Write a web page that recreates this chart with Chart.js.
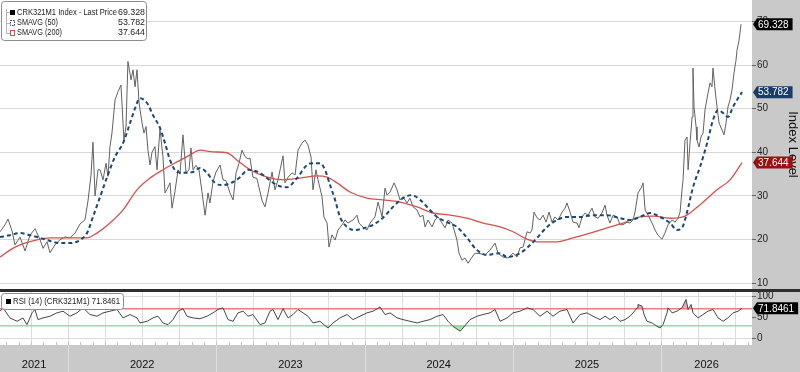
<!DOCTYPE html>
<html><head><meta charset="utf-8">
<script src="https://cdn.jsdelivr.net/npm/chart.js@4.4.1/dist/chart.umd.min.js"></script>
<style>
html,body{margin:0;padding:0;background:#c9c9c9;width:800px;height:372px;overflow:hidden}
#a{position:absolute;left:0;top:0;width:800px;height:292px}
#b{position:absolute;left:0;top:292px;width:800px;height:80px}
</style></head><body>
<div id="a"><canvas id="ca"></canvas></div>
<div id="b"><canvas id="cb"></canvas></div>
<script>
// ---- DATA (dates as decimal years) ----
const priceDates = [2021.541,2021.575,2021.595,2021.622,2021.642,2021.676,2021.710,2021.743,2021.777,2021.811,2021.831,2021.858,2021.878,2021.912,2021.946,2021.979,2022.013,2022.047,2022.081,2022.114,2022.135,2022.155,2022.168,2022.182,2022.202,2022.216,2022.236,2022.256,2022.269,2022.283,2022.296,2022.317,2022.337,2022.357,2022.377,2022.391,2022.404,2022.425,2022.438,2022.452,2022.465,2022.479,2022.499,2022.512,2022.526,2022.539,2022.553,2022.566,2022.586,2022.600,2022.620,2022.640,2022.654,2022.667,2022.688,2022.701,2022.721,2022.742,2022.755,2022.775,2022.796,2022.816,2022.829,2022.843,2022.863,2022.883,2022.903,2022.924,2022.944,2022.957,2022.978,2022.998,2023.025,2023.045,2023.065,2023.092,2023.113,2023.133,2023.153,2023.173,2023.194,2023.214,2023.227,2023.247,2023.274,2023.308,2023.328,2023.349,2023.376,2023.396,2023.416,2023.450,2023.463,2023.484,2023.511,2023.531,2023.551,2023.578,2023.598,2023.618,2023.639,2023.652,2023.672,2023.686,2023.713,2023.726,2023.747,2023.760,2023.780,2023.801,2023.821,2023.848,2023.868,2023.888,2023.922,2023.949,2023.962,2023.989,2024.016,2024.037,2024.070,2024.091,2024.118,2024.138,2024.151,2024.172,2024.199,2024.219,2024.239,2024.259,2024.286,2024.306,2024.327,2024.354,2024.374,2024.394,2024.408,2024.428,2024.455,2024.475,2024.495,2024.522,2024.543,2024.563,2024.590,2024.610,2024.623,2024.637,2024.657,2024.677,2024.698,2024.725,2024.745,2024.779,2024.812,2024.846,2024.880,2024.900,2024.934,2024.967,2025.001,2025.028,2025.048,2025.069,2025.096,2025.116,2025.129,2025.143,2025.163,2025.183,2025.204,2025.224,2025.244,2025.264,2025.284,2025.305,2025.332,2025.352,2025.365,2025.386,2025.406,2025.433,2025.446,2025.467,2025.487,2025.507,2025.534,2025.554,2025.575,2025.601,2025.622,2025.635,2025.655,2025.676,2025.703,2025.723,2025.743,2025.770,2025.790,2025.811,2025.824,2025.844,2025.865,2025.878,2025.892,2025.912,2025.939,2025.959,2025.979,2026.006,2026.026,2026.047,2026.074,2026.094,2026.114,2026.128,2026.141,2026.148,2026.161,2026.175,2026.182,2026.195,2026.209,2026.215,2026.222,2026.236,2026.242,2026.256,2026.269,2026.283,2026.296,2026.310,2026.330,2026.343,2026.350,2026.364,2026.377,2026.391,2026.411,2026.424,2026.438,2026.451,2026.465,2026.478,2026.492,2026.505,2026.512,2026.526,2026.539];
const priceValues = [21.8,23.4,24.7,22.0,18.8,20.6,17.4,21.0,22.5,20.0,18.0,19.5,17.0,18.8,20.0,20.6,20.4,21.5,23.6,24.5,29.0,34.8,42.3,30.0,36.0,36.0,33.7,37.5,34.5,41.3,44.4,52.0,53.9,55.4,42.8,46.0,60.8,56.6,58.9,55.0,58.9,51.3,46.7,44.4,45.9,40.5,37.1,40.0,41.3,36.0,45.3,39.0,30.7,31.5,33.0,27.2,31.0,36.0,35.0,44.0,35.3,36.0,41.0,36.0,37.0,36.0,31.0,25.6,30.7,28.4,33.3,35.5,37.1,33.7,33.5,30.7,29.1,35.3,37.5,40.5,39.0,38.5,38.7,34.3,34.0,29.0,27.5,30.7,35.5,31.4,33.7,39.2,33.0,34.3,35.3,34.8,40.5,42.1,42.8,41.7,38.9,31.4,36.0,33.7,29.8,25.2,23.8,18.3,21.1,19.9,22.2,23.4,24.5,23.8,24.5,25.6,23.8,22.9,22.2,23.8,25.2,28.6,25.2,31.8,30.2,30.9,33.0,31.4,29.1,29.8,28.4,29.5,27.5,26.8,25.2,25.6,22.9,24.5,22.9,24.5,25.2,23.8,22.7,24.5,23.8,21.5,19.9,16.9,15.3,15.8,14.6,16.0,16.9,16.8,16.5,17.6,19.2,16.9,16.0,15.8,16.9,16.0,18.1,18.3,21.8,21.5,22.2,26.3,25.0,24.5,25.6,24.0,26.3,24.0,25.2,24.5,26.3,27.2,28.4,26.3,24.0,23.8,22.7,25.2,26.1,25.6,27.2,25.2,24.9,26.1,27.9,25.6,23.8,25.6,25.2,23.4,23.4,24.0,23.8,24.5,26.3,30.7,31.8,33.0,26.8,25.6,23.8,22.2,21.0,20.1,21.5,23.4,24.5,24.0,24.9,26.3,31.4,33.7,42.8,43.5,36.0,42.1,48.1,59.3,50.4,45.8,42.8,41.2,43.5,44.4,49.7,52.4,55.9,55.0,59.3,54.3,50.4,46.7,45.1,44.0,46.7,50.4,52.0,54.3,58.2,61.1,63.4,65.7,69.328];

const sma50Dates = [2021.541,2021.608,2021.676,2021.743,2021.811,2021.878,2021.946,2022.013,2022.081,2022.128,2022.168,2022.216,2022.263,2022.317,2022.371,2022.418,2022.452,2022.485,2022.533,2022.573,2022.620,2022.654,2022.688,2022.735,2022.775,2022.843,2022.890,2022.937,2022.991,2023.045,2023.113,2023.160,2023.214,2023.281,2023.315,2023.409,2023.477,2023.544,2023.612,2023.645,2023.699,2023.733,2023.767,2023.801,2023.834,2023.882,2023.935,2024.003,2024.057,2024.124,2024.192,2024.259,2024.320,2024.374,2024.441,2024.489,2024.556,2024.623,2024.691,2024.758,2024.826,2024.914,2024.961,2025.048,2025.102,2025.163,2025.231,2025.298,2025.365,2025.453,2025.541,2025.635,2025.723,2025.790,2025.858,2025.925,2025.993,2026.060,2026.108,2026.141,2026.175,2026.215,2026.263,2026.310,2026.350,2026.384,2026.418,2026.451,2026.485,2026.519,2026.546];
const sma50Values = [20.6,21.0,21.5,21.0,20.4,19.7,19.2,19.2,19.9,21.5,25.2,29.8,34.3,39.0,42.1,46.7,50.1,52.4,51.3,48.5,45.6,42.1,38.2,35.5,35.3,35.5,36.4,35.3,33.0,32.5,33.2,34.3,36.0,35.5,34.8,32.5,32.0,34.1,37.1,37.5,37.5,36.0,32.5,29.1,25.2,22.9,22.2,22.7,23.4,25.0,27.5,29.5,30.2,29.1,26.8,25.2,24.0,22.9,20.4,17.6,16.5,16.9,16.0,16.9,18.3,20.4,22.9,24.5,25.2,25.2,25.6,25.6,24.9,24.5,25.2,26.1,25.2,23.8,22.2,22.7,26.3,32.0,36.7,42.1,47.4,49.7,49.0,48.1,50.4,52.4,53.782];

const sma200Dates = [2021.541,2021.608,2021.676,2021.764,2021.878,2021.993,2022.128,2022.195,2022.283,2022.371,2022.465,2022.553,2022.640,2022.735,2022.823,2022.890,2022.978,2023.072,2023.140,2023.227,2023.342,2023.450,2023.565,2023.679,2023.747,2023.814,2023.902,2024.016,2024.124,2024.239,2024.354,2024.462,2024.576,2024.691,2024.799,2024.914,2025.001,2025.096,2025.163,2025.298,2025.406,2025.521,2025.635,2025.743,2025.858,2025.946,2026.060,2026.148,2026.263,2026.377,2026.465,2026.546];
const sma200Values = [16.0,17.6,18.8,19.7,20.4,20.4,20.4,21.5,23.8,26.8,31.4,34.1,36.0,37.8,39.4,40.5,40.1,39.9,38.2,36.0,34.3,33.7,34.1,34.6,34.3,33.0,30.9,29.5,29.1,28.6,27.5,26.1,25.6,24.9,23.8,22.9,21.8,20.1,19.5,19.5,20.4,21.5,22.7,23.8,25.2,25.4,24.9,25.2,28.0,31.4,33.7,37.644];

const rsiDates = [2021.541,2021.561,2021.608,2021.656,2021.696,2021.723,2021.757,2021.777,2021.797,2021.831,2021.878,2021.925,2021.966,2022.013,2022.060,2022.101,2022.148,2022.195,2022.236,2022.283,2022.330,2022.371,2022.418,2022.465,2022.485,2022.533,2022.573,2022.607,2022.640,2022.674,2022.708,2022.742,2022.775,2022.802,2022.843,2022.890,2022.937,2022.978,2023.011,2023.045,2023.079,2023.113,2023.146,2023.180,2023.214,2023.247,2023.295,2023.328,2023.362,2023.382,2023.416,2023.450,2023.484,2023.517,2023.551,2023.585,2023.618,2023.652,2023.699,2023.753,2023.787,2023.834,2023.882,2023.922,2023.969,2024.016,2024.057,2024.104,2024.138,2024.172,2024.219,2024.259,2024.306,2024.354,2024.394,2024.441,2024.489,2024.529,2024.563,2024.596,2024.644,2024.664,2024.711,2024.758,2024.799,2024.846,2024.880,2024.914,2024.961,2025.001,2025.048,2025.096,2025.136,2025.183,2025.231,2025.271,2025.318,2025.365,2025.406,2025.453,2025.500,2025.541,2025.588,2025.622,2025.655,2025.689,2025.723,2025.757,2025.790,2025.811,2025.838,2025.844,2025.871,2025.885,2025.905,2025.939,2025.972,2025.993,2026.013,2026.040,2026.047,2026.074,2026.107,2026.141,2026.168,2026.182,2026.202,2026.215,2026.249,2026.283,2026.316,2026.350,2026.384,2026.418,2026.451,2026.485,2026.519,2026.546];
const rsiValues = [65,73,49,41,49,33,61,69,45,49,53,61,65,53,61,73,57,53,61,65,69,49,57,49,37,41,49,53,37,33,45,65,71,53,49,47,53,61,69,73,45,41,61,65,53,57,33,37,65,69,45,71,49,57,69,61,53,37,41,25,37,49,57,45,53,61,65,75,57,61,49,45,41,37,41,45,53,57,41,29,17.5,25,45,53,57,61,69,41,49,61,65,73,69,53,65,53,65,69,37,57,61,53,45,53,45,53,41,45,53,61,73,81,77,57,41,37,29,25,33,61,73,61,65,73,93,69,81,61,49,57,65,69,49,41,49,61,65,71.8461];

const yearLabels = ['2021','2022','2023','2024','2025','2026'];
const mainTicks = [10,20,30,40,50,60,70];
const rsiTicks = [0,30,50,70,100];
const legendNames = ['CRK321M1 Index - Last Price','SMAVG (50)','SMAVG (200)'];
const rsiName = 'RSI (14) (CRK321M1)';

// ---- axis ranges ----
const X_MIN = 2021.541, X_MAX = 2026.613;
const Y_MIN = 8.69, Y_MAX = 74.89;
const R_MIN = -15.5, R_MAX = 110.7;

const GREY = '#c9c9c9';
const FONT = '"Liberation Sans", Arial, sans-serif';
const C_PRICE = '#626262', C_S50 = '#1d4777', C_S200 = '#d4524d';
const TAG_S50 = '#193d68', TAG_S200 = '#9b1111';

function pts(xs, ys){ return xs.map((x,i)=>({x:x, y:ys[i]})); }
function last(a){ return a[a.length-1]; }

function drawTag(ctx, x, y, text, color){
  ctx.save();
  ctx.font = '10px ' + FONT;
  const w = ctx.measureText(text).width;
  const h = 12;
  ctx.beginPath();
  ctx.moveTo(x, y); ctx.lineTo(x+4, y-h/2); ctx.lineTo(x+w+9, y-h/2);
  ctx.lineTo(x+w+9, y+h/2); ctx.lineTo(x+4, y+h/2); ctx.closePath();
  ctx.fillStyle = color; ctx.fill();
  ctx.fillStyle = '#fff'; ctx.textBaseline = 'middle'; ctx.textAlign = 'left';
  ctx.fillText(text, x+5, y+0.5);
  ctx.restore();
}
function rrect(ctx,x,y,w,h,r){
  ctx.beginPath();
  ctx.moveTo(x+r,y); ctx.lineTo(x+w-r,y); ctx.quadraticCurveTo(x+w,y,x+w,y+r);
  ctx.lineTo(x+w,y+h-r); ctx.quadraticCurveTo(x+w,y+h,x+w-r,y+h);
  ctx.lineTo(x+r,y+h); ctx.quadraticCurveTo(x,y+h,x,y+h-r);
  ctx.lineTo(x,y+r); ctx.quadraticCurveTo(x,y,x+r,y); ctx.closePath();
}
function noPad(s){ s.paddingTop=0; s.paddingBottom=0; s.paddingLeft=0; s.paddingRight=0; }

const plugA = {
  id:'plugA',
  beforeDraw(chart){
    const {ctx, chartArea:a, width, height} = chart;
    ctx.save();
    ctx.fillStyle = GREY; ctx.fillRect(0,0,width,height);
    ctx.fillStyle = '#fff'; ctx.fillRect(a.left,a.top,a.right-a.left,a.bottom-a.top);
    ctx.restore();
  },
  afterDraw(chart){
    const {ctx, chartArea:a, width} = chart;
    const ys = chart.scales.y;
    drawTag(ctx, a.right+1, ys.getPixelForValue(last(priceValues)), last(priceValues).toFixed(3), '#000');
    drawTag(ctx, a.right+1, ys.getPixelForValue(last(sma50Values)), last(sma50Values).toFixed(3), TAG_S50);
    drawTag(ctx, a.right+1, ys.getPixelForValue(last(sma200Values)), last(sma200Values).toFixed(3), TAG_S200);
    // legend box
    ctx.save();
    rrect(ctx, 1.5, 1.5, 145, 39, 3);
    ctx.fillStyle='#fff'; ctx.fill(); ctx.strokeStyle='#8c8c8c'; ctx.lineWidth=1; ctx.stroke();
    ctx.strokeStyle='#b5b5b5'; ctx.beginPath();
    ctx.moveTo(6.5,9); ctx.lineTo(6.5,33.5); ctx.lineTo(10,33.5);
    ctx.moveTo(6.5,23.5); ctx.lineTo(10,23.5);
    ctx.moveTo(6.5,12.5); ctx.lineTo(10,12.5); ctx.stroke();
    ctx.fillStyle='#000'; ctx.fillRect(10,10,5,5);
    ctx.setLineDash([1.5,1]); ctx.strokeStyle=C_S50; ctx.strokeRect(10.5,20.5,4,5);
    ctx.setLineDash([]); ctx.strokeStyle=C_S200; ctx.strokeRect(10.5,30.5,4,5);
    ctx.font = '9px ' + FONT; ctx.fillStyle='#222'; ctx.textBaseline='middle';
    const lv = [last(priceValues), last(sma50Values), last(sma200Values)];
    const ly = [12.5, 23, 33];
    const lw = [100, 41, 45];
    for (let i=0;i<3;i++){
      ctx.textAlign='left'; ctx.fillText(legendNames[i], 17, ly[i], lw[i]);
      ctx.textAlign='right'; ctx.fillText(lv[i].toFixed(3), 145, ly[i], 27);
    }
    ctx.restore();
    ctx.save(); ctx.fillStyle='#2e2e2e'; ctx.fillRect(0, a.bottom, width, 3); ctx.restore();
  }
};

new Chart(document.getElementById('ca'), {
  type:'line',
  data:{datasets:[
    {label:legendNames[1], data:pts(sma50Dates,sma50Values), borderColor:C_S50, borderWidth:2, borderDash:[4,3], pointRadius:0, cubicInterpolationMode:'monotone', order:0},
    {label:legendNames[2], data:pts(sma200Dates,sma200Values), borderColor:C_S200, borderWidth:1.3, pointRadius:0, cubicInterpolationMode:'monotone', order:1},
    {label:legendNames[0], data:pts(priceDates,priceValues), borderColor:C_PRICE, borderWidth:1, pointRadius:0, tension:0, order:2}
  ]},
  options:{
    responsive:true, maintainAspectRatio:false, animation:false,
    layout:{padding:{left:0,right:0,top:0,bottom:3}},
    plugins:{legend:{display:false}, tooltip:{enabled:false}},
    scales:{
      x:{type:'linear', min:X_MIN, max:X_MAX, display:false},
      y:{position:'right', min:Y_MIN, max:Y_MAX,
        afterBuildTicks:s=>{ s.ticks = mainTicks.map(v=>({value:v})); },
        afterFit:s=>{ s.width=48; noPad(s); },
        ticks:{color:'#222', font:{family:FONT, size:10}, padding:1, autoSkip:false},
        grid:{color:'#d8d8d8', tickColor:'#666', tickLength:4},
        border:{display:false},
        title:{display:true, text:'Index Level', color:'#111', font:{family:FONT, size:13}, padding:0}
      }
    }
  },
  plugins:[plugA]
});

const plugB = {
  id:'plugB',
  beforeDraw(chart){
    const {ctx, chartArea:a, width, height} = chart;
    const xs = chart.scales.x;
    ctx.save();
    ctx.fillStyle = GREY; ctx.fillRect(0,0,width,height);
    ctx.fillStyle = '#fff'; ctx.fillRect(a.left,a.top,a.right-a.left,a.bottom-a.top);
    ctx.lineWidth=1;
    for (let y=2021; y<=2027; y++){
      ctx.strokeStyle='#dcdcdc';
      for (let q=0;q<4;q++){
        const v = y + q*0.25;
        if (v<=X_MIN || v>=X_MAX) continue;
        const px = Math.round(xs.getPixelForValue(v))+0.5;
        ctx.beginPath(); ctx.moveTo(px,a.top); ctx.lineTo(px,a.bottom); ctx.stroke();
      }
      ctx.strokeStyle='#c4c4c4';
      for (let m=0;m<12;m++){
        const v = y + m/12;
        if (v<=X_MIN || v>=X_MAX) continue;
        const px = Math.round(xs.getPixelForValue(v))+0.5;
        ctx.beginPath(); ctx.moveTo(px,a.bottom-3); ctx.lineTo(px,a.bottom); ctx.stroke();
      }
      if (y>X_MIN && y<X_MAX){
        const px = Math.round(xs.getPixelForValue(y))+0.5;
        ctx.strokeStyle='#dedede';
        ctx.beginPath(); ctx.moveTo(px,a.bottom); ctx.lineTo(px,height); ctx.stroke();
      }
    }
    ctx.restore();
  },
  afterDraw(chart){
    const {ctx, chartArea:a} = chart;
    const ys = chart.scales.y;
    drawTag(ctx, a.right+1, ys.getPixelForValue(last(rsiValues)), last(rsiValues).toFixed(4), '#000');
    ctx.save();
    rrect(ctx, 1.5, 1.5, 122, 16, 3);
    ctx.fillStyle='#fff'; ctx.fill(); ctx.strokeStyle='#8c8c8c'; ctx.stroke();
    ctx.fillStyle='#000'; ctx.fillRect(6,7,5,5);
    ctx.font='9px '+FONT; ctx.fillStyle='#222'; ctx.textBaseline='middle'; ctx.textAlign='left';
    ctx.fillText(rsiName + ' ' + last(rsiValues).toFixed(4), 13, 10, 107);
    ctx.restore();
  }
};

const yearPos = yearLabels.map(l=>{
  const y = +l;
  const lo = Math.max(y, X_MIN), hi = Math.min(y+1, X_MAX);
  return (lo+hi)/2;
});

new Chart(document.getElementById('cb'), {
  type:'line',
  data:{datasets:[
    {label:rsiName, data:pts(rsiDates,rsiValues), borderColor:'#474747', borderWidth:1, pointRadius:0, tension:0,
      fill:{target:{value:70}, above:'rgba(232,120,120,0.6)', below:'rgba(0,0,0,0)'}},
    {label:'rsi-low', data:pts(rsiDates,rsiValues), borderColor:'rgba(0,0,0,0)', borderWidth:0, pointRadius:0, tension:0,
      fill:{target:{value:30}, above:'rgba(0,0,0,0)', below:'rgba(110,210,110,0.6)'}}
  ]},
  options:{
    responsive:true, maintainAspectRatio:false, animation:false,
    layout:{padding:0},
    plugins:{legend:{display:false}, tooltip:{enabled:false}},
    scales:{
      x:{type:'linear', min:X_MIN, max:X_MAX, position:'bottom',
        afterBuildTicks:s=>{ s.ticks = yearPos.map(v=>({value:v})); },
        afterFit:s=>{ s.height=27; noPad(s); },
        ticks:{callback:(v,i)=>yearLabels[i], color:'#111', font:{family:FONT, size:11}, padding:13, maxRotation:0, autoSkip:false},
        grid:{display:false, drawTicks:false}, border:{display:false}},
      y:{position:'right', min:R_MIN, max:R_MAX,
        afterBuildTicks:s=>{ s.ticks = rsiTicks.map(v=>({value:v})); },
        afterFit:s=>{ s.width=48; noPad(s); },
        ticks:{callback:v=>(v===30||v===70)?'':String(v), color:'#222', font:{family:FONT, size:10}, padding:1, autoSkip:false},
        grid:{
          color:c=> c.tick.value===70 ? '#ef7d7d' : c.tick.value===30 ? '#8fe38f' : c.tick.value===50 ? 'rgba(0,0,0,0)' : '#dcdcdc',
          lineWidth:c=> (c.tick.value===70||c.tick.value===30) ? 1.5 : 1,
          tickColor:c=> (c.tick.value===70||c.tick.value===30) ? 'rgba(0,0,0,0)' : '#666',
          tickLength:4},
        border:{display:false}
      }
    }
  },
  plugins:[plugB]
});
</script>
</body></html>
